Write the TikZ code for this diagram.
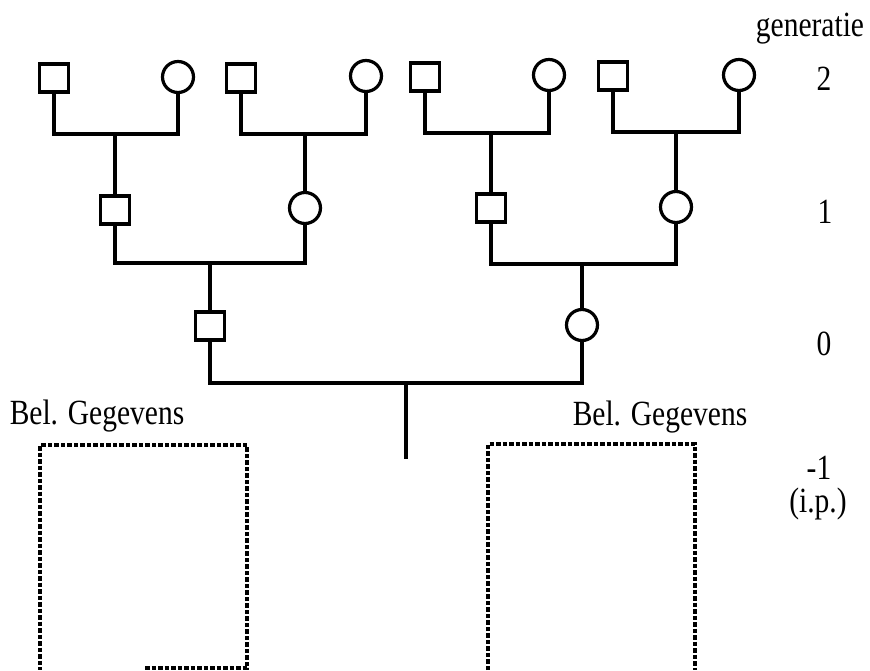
\documentclass[tikz,border=0pt]{standalone}
\usepackage{fontspec}
\setmainfont{Liberation Serif}
\begin{document}
\begin{tikzpicture}[x=1pt,y=-1pt,
  male/.style={draw,line width=3.2pt,minimum width=29pt,minimum height=28pt,inner sep=0pt},
  female/.style={draw,circle,line width=3.2pt,minimum size=31pt,inner sep=0pt},
  link/.style={line width=3.2pt},
  label/.style={font=\fontsize{29.5}{32}\selectfont,inner sep=0pt,anchor=base,
    yscale=1.2,transform shape},
  record/.style={line width=4pt,dash pattern=on 4.5pt off 2pt}]
\useasboundingbox (0,0) rectangle (870,670);

% generation 2
\node[male]   (a) at (54,78)  {};
\node[female] (b) at (178,77) {};
\node[male]   (c) at (241,78) {};
\node[female] (d) at (366,76) {};
\node[male]   (e) at (425,77) {};
\node[female] (f) at (549,75) {};
\node[male]   (g) at (613,76) {};
\node[female] (h) at (739,75) {};

% generation 1
\node[male]   (p) at (115,210) {};
\node[female] (q) at (305,208) {};
\node[male]   (r) at (491,208) {};
\node[female] (s) at (676,207) {};

% generation 0
\node[male]   (m) at (210,326) {};
\node[female] (n) at (582,325) {};

% junctions on the couple lines
\coordinate (ab) at (115,134);
\coordinate (cd) at (305,134);
\coordinate (ef) at (491,133);
\coordinate (gh) at (676,132);
\coordinate (pq) at (210,263);
\coordinate (rs) at (582,264);
\coordinate (mn) at (406,383);
\coordinate (ip) at (406,459);

\draw[link] (a.south) |- (ab) -| (b.south);
\draw[link] (ab) -- (p.north);
\draw[link] (c.south) |- (cd) -| (d.south);
\draw[link] (cd) -- (q.north);
\draw[link] (e.south) |- (ef) -| (f.south);
\draw[link] (ef) -- (r.north);
\draw[link] (g.south) |- (gh) -| (h.south);
\draw[link] (gh) -- (s.north);
\draw[link] (p.south) |- (pq) -| (q.south);
\draw[link] (pq) -- (m.north);
\draw[link] (r.south) |- (rs) -| (s.south);
\draw[link] (rs) -- (n.north);
\draw[link] (m.south) |- (mn) -| (n.south);
\draw[line width=3.8pt] (mn) -- (ip);

% record boxes
\draw[record] (145,668) -- (247,668) -- (247,445) -- (40,445) -- (40,670);
\draw[record] (488,670) -- (488,444) -- (695,444) -- (695,670);

\node[label] (lbl-left)  at (97,424)  {Bel. Gegevens};
\node[label] (lbl-right) at (660,425) {Bel. Gegevens};

% generation column
\node[label] (gen)  at (810,36)  {generatie};
\node[label] (g2)   at (824,90)  {2};
\node[label] (g1)   at (825,223) {1};
\node[label] (g0)   at (824,355) {0};
\node[label] (gm1)  at (819,479) {-1};
\node[label] (gip)  at (818,512) {(i.p.)};
\end{tikzpicture}
\end{document}
